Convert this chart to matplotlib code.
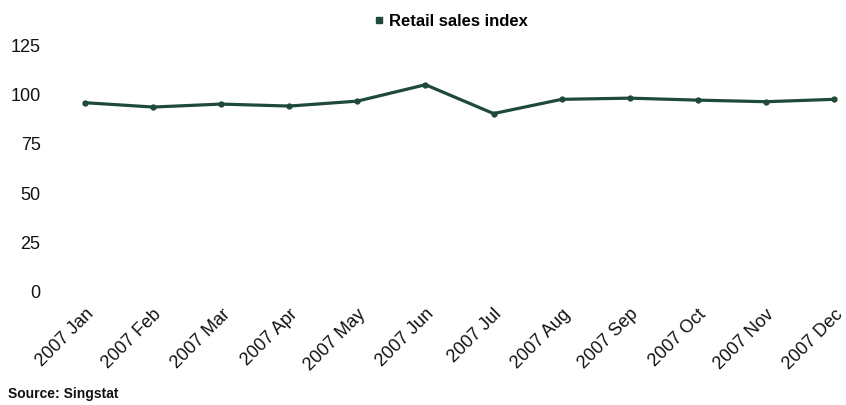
import matplotlib
matplotlib.use("Agg")
from matplotlib import pyplot as plt

months = ["2007 Jan", "2007 Feb", "2007 Mar", "2007 Apr", "2007 May", "2007 Jun",
          "2007 Jul", "2007 Aug", "2007 Sep", "2007 Oct", "2007 Nov", "2007 Dec"]
retail_index = [95.8, 93.6, 95.1, 94.1, 96.6, 104.9, 90.3, 97.5, 98.1, 97.1, 96.3, 97.5]
y_ticks = [0, 25, 50, 75, 100, 125]

green = "#1e4a38"
plt.rcParams['font.family'] = ['Liberation Sans', 'DejaVu Sans']

fig = plt.figure(figsize=(8.46, 4.05), dpi=100)
ax = fig.add_axes([85 / 846, 113 / 405, 749 / 846, 247 / 405])

ax.plot(range(len(months)), retail_index, color=green, lw=2.3, marker="o",
        markersize=3.5, clip_on=False, label="Retail sales index")

ax.set_xlim(0, len(months) - 1)
ax.set_ylim(0, 125)
ax.set_yticks(y_ticks)
ax.set_xticks(range(len(months)))
ax.set_xticklabels(months, rotation=45, ha="right", rotation_mode="anchor")
ax.tick_params(axis="both", length=0, labelsize=13, colors="#111111")
ax.tick_params(axis="y", pad=32)
ax.tick_params(axis="x", pad=10)
for s in ax.spines.values():
    s.set_visible(False)

# legend sits centred above the plot
leg = fig.legend(handles=[plt.Line2D([], [], marker="s", ls="none", color=green, markersize=4.5)],
                 labels=["Retail sales index"], loc="center", bbox_to_anchor=(449 / 846, 1 - 21 / 405),
                 frameon=False, handletextpad=0.1, handlelength=1.0,
                 prop={"size": 12, "weight": "semibold"})

fig.text(8 / 846, 1 - 398 / 405, "Source: Singstat", fontsize=10, fontweight="bold",
         color="#111111", va="baseline")

fig.savefig("out.png", dpi=100)
